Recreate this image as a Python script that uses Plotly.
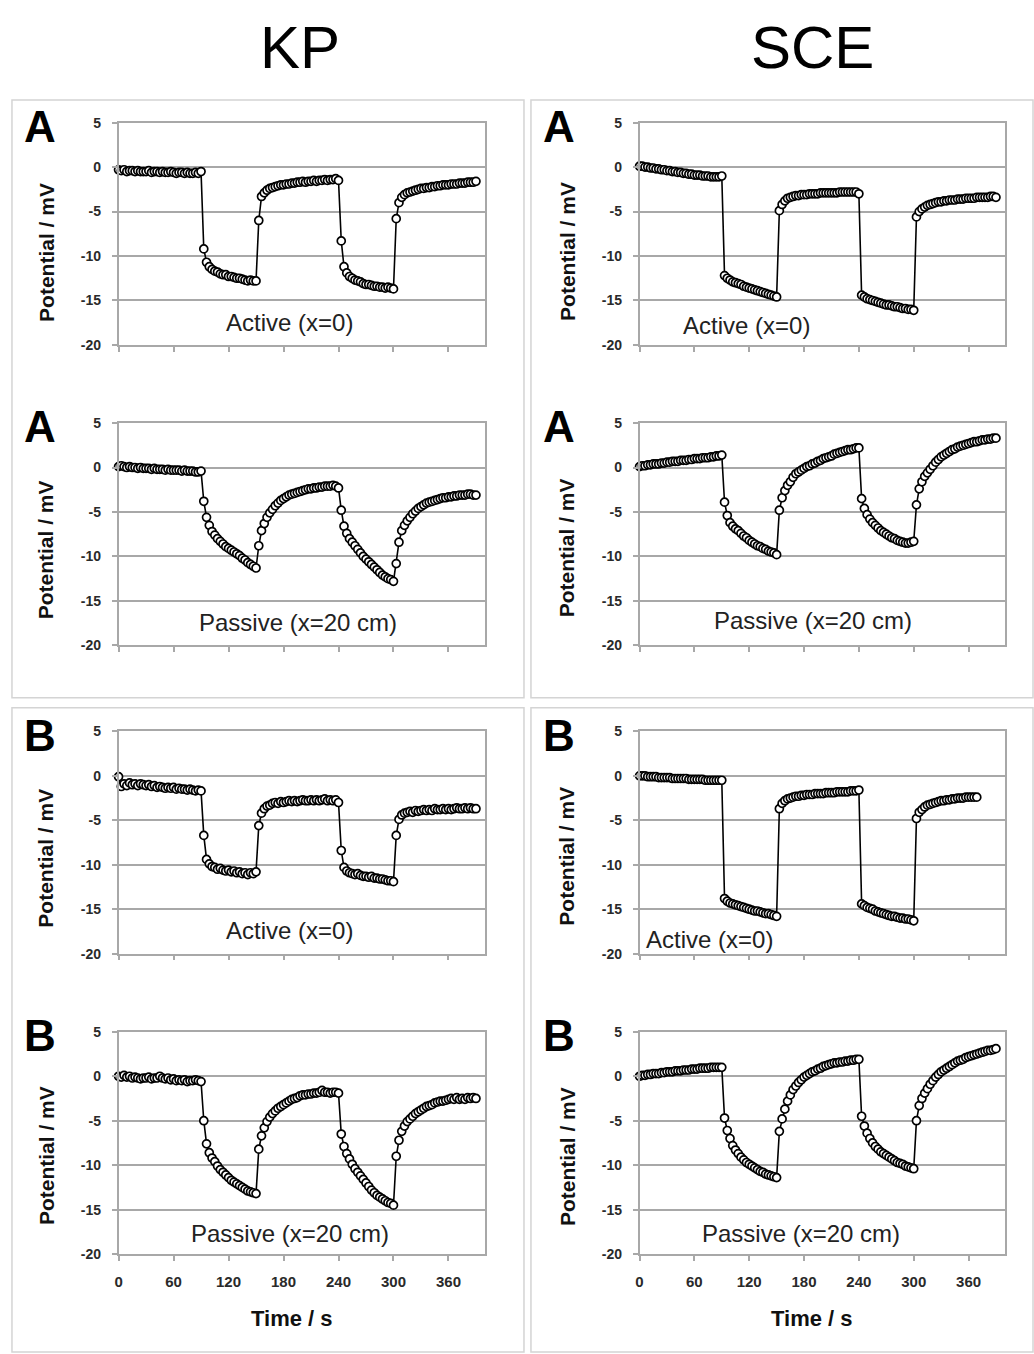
import plotly.graph_objects as go

# ---------------- data (time in s, potential in mV) ----------------
TIME = [0, 3, 6, 9, 12, 15, 18, 21, 24, 27,
        30, 33, 36, 39, 42, 45, 48, 51, 54, 57,
        60, 63, 66, 69, 72, 75, 78, 81, 84, 87,
        90, 93, 96, 99, 102, 105, 108, 111, 114, 117,
        120, 123, 126, 129, 132, 135, 138, 141, 144, 147,
        150, 153, 156, 159, 162, 165, 168, 171, 174, 177,
        180, 183, 186, 189, 192, 195, 198, 201, 204, 207,
        210, 213, 216, 219, 222, 225, 228, 231, 234, 237,
        240, 243, 246, 249, 252, 255, 258, 261, 264, 267,
        270, 273, 276, 279, 282, 285, 288, 291, 294, 297,
        300, 303, 306, 309, 312, 315, 318, 321, 324, 327,
        330, 333, 336, 339, 342, 345, 348, 351, 354, 357,
        360, 363, 366, 369, 372, 375, 378, 381, 384, 387,
        390]

KP_A_ACTIVE = [-0.3, -0.4, -0.3, -0.5, -0.4, -0.4, -0.5, -0.4, -0.5, -0.5,
               -0.5, -0.4, -0.6, -0.5, -0.5, -0.6, -0.5, -0.6, -0.6, -0.5,
               -0.6, -0.7, -0.6, -0.6, -0.7, -0.6, -0.7, -0.7, -0.6, -0.7,
               -0.5, -9.2, -10.7, -11.2, -11.5, -11.7, -11.8, -12.0, -12.1, -12.1,
               -12.3, -12.3, -12.4, -12.5, -12.5, -12.6, -12.7, -12.8, -12.7, -12.8,
               -12.8, -6.0, -3.3, -2.9, -2.6, -2.4, -2.3, -2.2, -2.1, -2.0,
               -2.0, -1.9, -1.9, -1.8, -1.8, -1.7, -1.7, -1.6, -1.7, -1.6,
               -1.6, -1.5, -1.6, -1.5, -1.5, -1.4, -1.5, -1.4, -1.4, -1.3,
               -1.5, -8.3, -11.2, -11.9, -12.3, -12.5, -12.7, -12.8, -12.9, -13.1,
               -13.2, -13.2, -13.3, -13.4, -13.4, -13.5, -13.5, -13.6, -13.5, -13.6,
               -13.7, -5.8, -4.0, -3.4, -3.1, -2.9, -2.8, -2.7, -2.6, -2.5,
               -2.4, -2.4, -2.3, -2.3, -2.2, -2.2, -2.1, -2.1, -2.0, -2.0,
               -2.0, -1.9, -1.9, -1.9, -1.8, -1.8, -1.8, -1.7, -1.7, -1.7,
               -1.6]

KP_A_PASSIVE = [0.1, 0.2, 0.1, 0.0, 0.1, 0.0, 0.0, -0.1, 0.0, -0.1,
                -0.1, -0.1, -0.2, -0.1, -0.2, -0.2, -0.2, -0.3, -0.2, -0.3,
                -0.3, -0.3, -0.3, -0.4, -0.3, -0.4, -0.4, -0.4, -0.5, -0.5,
                -0.4, -3.8, -5.6, -6.5, -7.2, -7.6, -8.0, -8.3, -8.6, -8.9,
                -9.1, -9.3, -9.5, -9.7, -9.9, -10.2, -10.4, -10.7, -10.9, -11.1,
                -11.3, -8.8, -7.1, -6.3, -5.6, -5.1, -4.7, -4.3, -4.0, -3.7,
                -3.5, -3.3, -3.1, -3.0, -2.9, -2.8, -2.7, -2.6, -2.5, -2.4,
                -2.4, -2.3, -2.3, -2.2, -2.2, -2.1, -2.1, -2.1, -2.0, -2.1,
                -2.3, -4.8, -6.6, -7.4, -8.0, -8.4, -8.8, -9.2, -9.6, -10.0,
                -10.3, -10.6, -10.9, -11.2, -11.5, -11.8, -12.1, -12.3, -12.5, -12.6,
                -12.8, -10.8, -8.4, -7.1, -6.5, -6.0, -5.6, -5.2, -4.9, -4.6,
                -4.4, -4.2, -4.0, -3.9, -3.8, -3.7, -3.6, -3.5, -3.4, -3.4,
                -3.3, -3.3, -3.2, -3.2, -3.1, -3.1, -3.1, -3.0, -3.0, -3.1,
                -3.1]

KP_B_ACTIVE = [-0.1, -1.2, -0.9, -1.1, -0.8, -1.0, -0.9, -1.1, -0.9, -1.0,
               -1.1, -1.0, -1.2, -1.1, -1.3, -1.2, -1.3, -1.4, -1.3, -1.4,
               -1.3, -1.5, -1.4, -1.5, -1.5, -1.6, -1.5, -1.6, -1.7, -1.6,
               -1.7, -6.7, -9.4, -9.9, -10.2, -10.3, -10.5, -10.4, -10.6, -10.7,
               -10.6, -10.8, -10.7, -10.9, -10.8, -11.0, -10.9, -11.1, -10.9, -11.0,
               -10.8, -5.6, -4.2, -3.7, -3.4, -3.3, -3.1, -3.0, -3.1, -2.9,
               -3.0, -2.9, -2.8, -2.9, -2.8, -2.9, -2.8, -2.7, -2.8, -2.8,
               -2.7, -2.8, -2.7, -2.8, -2.7, -2.6, -2.8, -2.7, -2.8, -2.7,
               -3.0, -8.4, -10.3, -10.7, -10.9, -11.0, -11.1, -11.0, -11.2, -11.3,
               -11.3, -11.4, -11.3, -11.5, -11.5, -11.6, -11.6, -11.7, -11.8, -11.8,
               -11.9, -6.7, -4.9, -4.4, -4.2, -4.1, -4.0, -4.1, -3.9, -4.0,
               -3.9, -3.8, -3.9, -3.8, -3.9, -3.7, -3.8, -3.8, -3.7, -3.8,
               -3.7, -3.8, -3.7, -3.6, -3.7, -3.7, -3.6, -3.7, -3.6, -3.7,
               -3.7]

KP_B_PASSIVE = [0.0, -0.1, 0.1, -0.1, 0.0, -0.2, -0.1, -0.2, -0.3, -0.2,
                -0.2, -0.1, -0.3, -0.2, -0.2, 0.0, -0.2, -0.3, -0.2, -0.4,
                -0.3, -0.5, -0.4, -0.5, -0.4, -0.6, -0.5, -0.5, -0.4, -0.5,
                -0.6, -5.0, -7.6, -8.6, -9.2, -9.6, -10.1, -10.5, -10.8, -11.1,
                -11.4, -11.7, -11.9, -12.1, -12.3, -12.5, -12.7, -12.9, -13.0, -13.1,
                -13.2, -8.2, -6.7, -5.8, -5.1, -4.6, -4.2, -3.9, -3.6, -3.4,
                -3.2, -3.0, -2.8, -2.6, -2.5, -2.4, -2.2, -2.1, -2.1, -2.0,
                -2.0, -1.9, -1.9, -1.8, -1.6, -1.8, -1.8, -1.9, -1.8, -1.8,
                -1.9, -6.5, -7.9, -8.7, -9.3, -9.9, -10.4, -10.8, -11.2, -11.6,
                -12.0, -12.4, -12.8, -13.1, -13.4, -13.6, -13.8, -14.0, -14.2, -14.3,
                -14.5, -9.0, -7.2, -6.2, -5.6, -5.1, -4.8, -4.5, -4.2, -4.0,
                -3.8, -3.6, -3.4, -3.3, -3.2, -3.0, -2.9, -2.8, -2.8, -2.7,
                -2.6, -2.5, -2.6, -2.4, -2.6, -2.5, -2.6, -2.4, -2.5, -2.4,
                -2.5]

SCE_A_ACTIVE = [0.1, 0.1, 0.0, 0.0, -0.1, -0.1, -0.2, -0.2, -0.3, -0.3,
                -0.4, -0.4, -0.5, -0.5, -0.6, -0.6, -0.7, -0.7, -0.8, -0.8,
                -0.9, -0.9, -0.9, -1.0, -1.0, -1.0, -1.1, -1.1, -1.1, -1.1,
                -1.0, -12.2, -12.5, -12.7, -12.9, -13.0, -13.1, -13.2, -13.4, -13.5,
                -13.6, -13.7, -13.8, -13.9, -14.0, -14.1, -14.2, -14.3, -14.4, -14.5,
                -14.6, -4.9, -4.2, -3.8, -3.5, -3.4, -3.3, -3.2, -3.2, -3.1,
                -3.1, -3.1, -3.0, -3.0, -3.0, -3.0, -2.9, -2.9, -2.9, -2.9,
                -2.9, -2.9, -2.9, -2.8, -2.8, -2.8, -2.8, -2.8, -2.8, -2.8,
                -3.0, -14.4, -14.6, -14.8, -14.9, -15.0, -15.1, -15.2, -15.3, -15.4,
                -15.5, -15.5, -15.6, -15.7, -15.7, -15.8, -15.9, -15.9, -16.0, -16.0,
                -16.1, -5.6, -5.0, -4.7, -4.5, -4.3, -4.2, -4.1, -4.0, -3.9,
                -3.9, -3.8, -3.8, -3.7, -3.7, -3.7, -3.6, -3.6, -3.6, -3.5,
                -3.5, -3.5, -3.5, -3.4, -3.4, -3.4, -3.4, -3.4, -3.3, -3.3,
                -3.4]

SCE_A_PASSIVE = [0.1, 0.2, 0.2, 0.3, 0.3, 0.4, 0.4, 0.4, 0.5, 0.5,
                 0.6, 0.6, 0.7, 0.7, 0.7, 0.8, 0.8, 0.8, 0.9, 0.9,
                 1.0, 1.0, 1.0, 1.1, 1.1, 1.1, 1.2, 1.2, 1.3, 1.3,
                 1.4, -3.9, -5.4, -6.2, -6.6, -6.9, -7.1, -7.4, -7.7, -7.9,
                 -8.2, -8.4, -8.6, -8.8, -8.9, -9.1, -9.2, -9.4, -9.5, -9.6,
                 -9.8, -4.8, -3.4, -2.6, -2.0, -1.6, -1.1, -0.7, -0.5, -0.3,
                 -0.1, 0.1, 0.2, 0.4, 0.5, 0.7, 0.8, 1.0, 1.1, 1.2,
                 1.3, 1.5, 1.6, 1.7, 1.8, 1.9, 2.0, 2.0, 2.1, 2.2,
                 2.2, -3.5, -4.6, -5.3, -5.8, -6.2, -6.5, -6.8, -7.1, -7.3,
                 -7.5, -7.7, -7.9, -8.0, -8.2, -8.3, -8.4, -8.5, -8.5, -8.4,
                 -8.3, -4.2, -2.4, -1.6, -1.0, -0.6, -0.2, 0.2, 0.6, 0.9,
                 1.2, 1.4, 1.6, 1.8, 2.0, 2.1, 2.3, 2.4, 2.5, 2.6,
                 2.7, 2.8, 2.9, 2.9, 3.0, 3.1, 3.1, 3.2, 3.2, 3.3,
                 3.3]

SCE_B_ACTIVE = [0.0, 0.0, 0.0, -0.1, -0.1, -0.1, -0.1, -0.2, -0.2, -0.2,
                -0.2, -0.2, -0.3, -0.3, -0.3, -0.3, -0.3, -0.3, -0.4, -0.4,
                -0.4, -0.4, -0.4, -0.4, -0.5, -0.5, -0.5, -0.5, -0.5, -0.5,
                -0.5, -13.8, -14.1, -14.3, -14.4, -14.5, -14.6, -14.7, -14.8, -14.9,
                -15.0, -15.1, -15.2, -15.2, -15.3, -15.4, -15.5, -15.5, -15.6, -15.7,
                -15.8, -3.7, -3.1, -2.8, -2.6, -2.5, -2.4, -2.3, -2.3, -2.2,
                -2.2, -2.1, -2.1, -2.1, -2.0, -2.0, -2.0, -2.0, -1.9, -1.9,
                -1.9, -1.9, -1.8, -1.8, -1.8, -1.8, -1.8, -1.7, -1.7, -1.7,
                -1.6, -14.4, -14.6, -14.8, -14.9, -15.0, -15.2, -15.3, -15.4, -15.5,
                -15.6, -15.7, -15.8, -15.8, -15.9, -16.0, -16.0, -16.1, -16.1, -16.2,
                -16.3, -4.8, -4.1, -3.8, -3.5, -3.3, -3.2, -3.1, -3.0, -2.9,
                -2.8, -2.8, -2.7, -2.7, -2.6, -2.6, -2.5, -2.5, -2.5, -2.4,
                -2.4, -2.4, -2.4, -2.4, None, None, None, None, None, None,
                None]

SCE_B_PASSIVE = [0.0, 0.1, 0.1, 0.2, 0.2, 0.3, 0.3, 0.3, 0.4, 0.4,
                 0.5, 0.5, 0.5, 0.6, 0.6, 0.6, 0.7, 0.7, 0.7, 0.8,
                 0.8, 0.8, 0.9, 0.9, 0.9, 0.9, 1.0, 1.0, 1.0, 1.0,
                 1.0, -4.7, -6.1, -7.0, -7.8, -8.3, -8.7, -9.1, -9.4, -9.7,
                 -9.9, -10.1, -10.3, -10.5, -10.7, -10.8, -11.0, -11.1, -11.2, -11.3,
                 -11.4, -6.2, -4.8, -3.7, -2.8, -2.1, -1.5, -1.1, -0.7, -0.4,
                 -0.1, 0.1, 0.3, 0.5, 0.6, 0.8, 0.9, 1.1, 1.2, 1.3,
                 1.4, 1.5, 1.5, 1.6, 1.6, 1.7, 1.7, 1.8, 1.8, 1.9,
                 1.9, -4.5, -5.6, -6.4, -7.0, -7.5, -7.9, -8.2, -8.5, -8.7,
                 -8.9, -9.1, -9.3, -9.5, -9.7, -9.8, -9.9, -10.1, -10.2, -10.3,
                 -10.4, -5.0, -3.3, -2.5, -1.9, -1.4, -0.9, -0.5, -0.1, 0.2,
                 0.5, 0.7, 0.9, 1.1, 1.3, 1.5, 1.7, 1.8, 1.9, 2.1,
                 2.2, 2.3, 2.4, 2.5, 2.6, 2.7, 2.8, 2.9, 2.9, 3.0,
                 3.1]

COLUMN_TITLES = ["KP", "SCE"]
Y_TICKS = [-20, -15, -10, -5, 0, 5]
X_TICKS = [0, 60, 120, 180, 240, 300, 360]
Y_TITLE = "Potential / mV"
X_TITLE = "Time / s"

# ---------------- layout helpers ----------------
W, H = 1034, 1354
FONT = "Liberation Sans, Arial, sans-serif"


def fx(p):
    return p / W


def fy(p):
    return 1 - p / H


COLS = {"KP": (115, 483), "SCE": (638, 1005)}
ROWS = [(116, 341), (420, 645), (732, 957), (1036, 1261)]

# (series, column, row, letter, caption, caption center px, y-title center px)
PANELS = [
    (KP_A_ACTIVE, "KP", 0, "A", "Active (x=0)", (287, 318), (42, 247)),
    (KP_A_PASSIVE, "KP", 1, "A", "Passive (x=20 cm)", (295, 622), (42, 548)),
    (KP_B_ACTIVE, "KP", 2, "B", "Active (x=0)", (287, 934), (42, 860)),
    (KP_B_PASSIVE, "KP", 3, "B", "Passive (x=20 cm)", (287, 1240), (42, 1161)),
    (SCE_A_ACTIVE, "SCE", 0, "A", "Active (x=0)", (745, 321), (565, 246)),
    (SCE_A_PASSIVE, "SCE", 1, "A", "Passive (x=20 cm)", (812, 620), (565, 546)),
    (SCE_B_ACTIVE, "SCE", 2, "B", "Active (x=0)", (708, 943), (565, 858)),
    (SCE_B_PASSIVE, "SCE", 3, "B", "Passive (x=20 cm)", (800, 1240), (565, 1162)),
]

GRID = "#a8a8a8"
fig = go.Figure()
annotations = []
layout_axes = {}

for i, (vals, col, row, letter, caption, cap_xy, yt_xy) in enumerate(PANELS):
    n = i + 1
    xname = "x" if n == 1 else f"x{n}"
    yname = "y" if n == 1 else f"y{n}"
    xl, xr = COLS[col]
    yt, yb = ROWS[row]
    bottom = row == 3

    fig.add_trace(go.Scatter(
        x=TIME, y=vals, xaxis=xname, yaxis=yname, mode="lines+markers",
        line=dict(color="black", width=1.6),
        marker=dict(symbol="circle", size=8, color="white",
                    line=dict(color="black", width=1.7)),
        cliponaxis=False, showlegend=False, hoverinfo="x+y"))

    layout_axes["xaxis" if n == 1 else f"xaxis{n}"] = dict(
        domain=[fx(xl), fx(xr)], anchor=yname, range=[0, 400],
        tickvals=X_TICKS, ticktext=[str(v) for v in X_TICKS],
        showticklabels=bottom, ticks="outside", ticklen=5, tickwidth=1.5,
        tickcolor=GRID, showgrid=False, zeroline=False,
        showline=True, linecolor=GRID, linewidth=1.5, mirror=True,
        ticklabelstandoff=8,
        tickfont=dict(family=FONT, size=15, color="#2a2a2a", weight="bold"))

    layout_axes["yaxis" if n == 1 else f"yaxis{n}"] = dict(
        domain=[fy(yb), fy(yt)], anchor=xname, range=[-20, 5],
        tickvals=Y_TICKS, ticktext=[str(v) for v in Y_TICKS],
        ticks="outside", ticklen=5, tickwidth=1.5, tickcolor=GRID,
        showgrid=True, gridcolor=GRID, gridwidth=1.5, zeroline=False,
        showline=True, linecolor=GRID, linewidth=1.5, mirror=True,
        ticklabelstandoff=8,
        tickfont=dict(family=FONT, size=14, color="#2a2a2a", weight="bold"))

    # panel letter
    annotations.append(dict(
        text=f"<b>{letter}</b>", x=fx(36 if col == "KP" else 557),
        y=fy(ROWS[row][0] + 4), xref="paper", yref="paper",
        xanchor="center", yanchor="middle", showarrow=False,
        font=dict(family=FONT, size=44, color="black")))
    # caption
    annotations.append(dict(
        text=caption, x=fx(cap_xy[0]), y=fy(cap_xy[1]), xref="paper",
        yref="paper", xanchor="center", yanchor="middle", showarrow=False,
        font=dict(family=FONT, size=24, color="#222222")))
    # y title
    annotations.append(dict(
        text=f"<b>{Y_TITLE}</b>", x=fx(yt_xy[0]), y=fy(yt_xy[1]),
        xref="paper", yref="paper", xanchor="center", yanchor="middle",
        textangle=-90, showarrow=False,
        font=dict(family=FONT, size=21, color="#111111")))
    if bottom:
        annotations.append(dict(
            text=f"<b>{X_TITLE}</b>", x=fx((xl + xr) / 2 - 10), y=fy(1326),
            xref="paper", yref="paper", xanchor="center", yanchor="middle",
            showarrow=False, font=dict(family=FONT, size=22, color="#111111")))

# column titles
for title, cx in zip(COLUMN_TITLES, [297, 812]):
    annotations.append(dict(
        text=title, x=fx(cx), y=fy(40), xref="paper", yref="paper",
        xanchor="center", yanchor="middle", showarrow=False,
        font=dict(family=FONT, size=60, color="black")))

# group boxes
shapes = []
for (x0, y0, x1, y1) in [(8, 93, 522, 698), (529, 93, 1033, 698),
                         (8, 708, 522, 1360), (529, 708, 1033, 1360)]:
    shapes.append(dict(type="rect", xref="paper", yref="paper",
                       x0=fx(x0), x1=fx(x1), y0=fy(y1), y1=fy(y0),
                       line=dict(color="#d4d4d4", width=1.5),
                       fillcolor="rgba(0,0,0,0)", layer="below"))

fig.update_layout(
    width=W, height=H, autosize=False,
    margin=dict(l=0, r=0, t=0, b=0),
    paper_bgcolor="white", plot_bgcolor="white",
    showlegend=False, annotations=annotations, shapes=shapes,
    **layout_axes)

fig.write_html(
    "out.html",
    post_script="document.body.style.margin='0';document.body.style.overflow='hidden';")
